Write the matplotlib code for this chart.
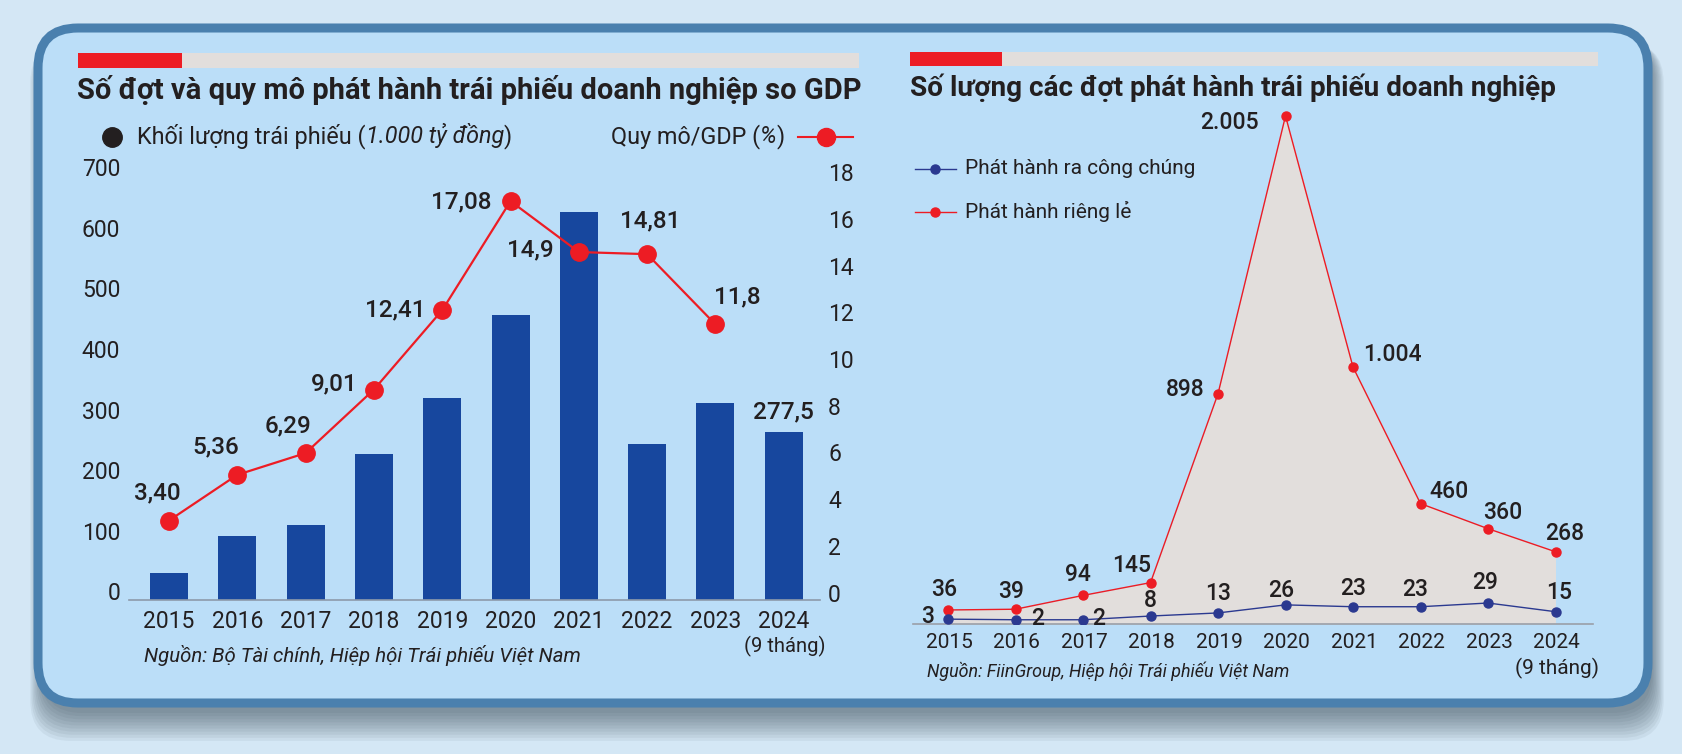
import matplotlib
matplotlib.use('Agg')
import matplotlib.pyplot as plt
from matplotlib.patches import FancyBboxPatch, Rectangle
import numpy as np

plt.rcParams['font.family'] = ['Roboto', 'DejaVu Sans']

# ---- du lieu ----
years = ['2015', '2016', '2017', '2018', '2019', '2020', '2021', '2022', '2023', '2024']
bond_volume = [45, 105, 123, 241, 333, 470, 639, 257, 325, 277.5]      # 1.000 ty dong
gdp_ratio = [3.40, 5.36, 6.29, 9.01, 12.41, 17.08, 14.9, 14.81, 11.8]  # %, 2015-2023
gdp_labels = ['3,40', '5,36', '6,29', '9,01', '12,41', '17,08', '14,9', '14,81', '11,8']
public_issues = [3, 2, 2, 8, 13, 26, 23, 23, 29, 15]
private_issues = [36, 39, 94, 145, 898, 2005, 1004, 460, 360, 268]
private_labels = ['36', '39', '94', '145', '898', '2.005', '1.004', '460', '360', '268']
left_ticks = [0, 100, 200, 300, 400, 500, 600, 700]
right_ticks = [0, 2, 4, 6, 8, 10, 12, 14, 16, 18]

# ---- couleurs ----
BG = '#d4e7f5'
PANEL = '#bbdef8'
BORDER = '#4a80ae'
RED = '#ed1c24'
GREY = '#e2dedc'
BAR = '#17479e'
INDIGO = '#2b3990'
TXT = '#231f20'
AXLINE = '#8d9aab'

W, H = 1683, 754
fig = plt.figure(figsize=(W / 100, H / 100), dpi=100)
fig.patch.set_facecolor(BG)

# fond en pixels
bg = fig.add_axes([0, 0, 1, 1])
bg.set_xlim(0, W)
bg.set_ylim(H, 0)
bg.axis('off')

for k in range(10):
    bg.add_patch(FancyBboxPatch((42, 38 + k * 1.8), 1610, 675,
                                boxstyle='round,pad=%.1f,rounding_size=40' % (k * 1.3),
                                fc='#22323f', ec='none', alpha=0.06))
bg.add_patch(FancyBboxPatch((38, 28), 1610, 675, boxstyle='round,pad=0,rounding_size=40',
                            fc=PANEL, ec=BORDER, lw=6.5))

# bandeaux
bg.add_patch(Rectangle((78, 53), 781, 15, fc=GREY, ec='none'))
bg.add_patch(Rectangle((78, 53), 104, 15, fc=RED, ec='none'))
bg.add_patch(Rectangle((910, 52), 688, 14, fc=GREY, ec='none'))
bg.add_patch(Rectangle((910, 52), 92, 14, fc=RED, ec='none'))

r = fig.canvas.get_renderer()


def fit_width(t, width):
    w = t.get_window_extent(renderer=r).width
    t.set_fontsize(t.get_fontsize() * width / w)


t = bg.text(77, 90, 'Số đợt và quy mô phát hành trái phiếu doanh nghiệp so GDP',
            fontsize=20, fontweight='bold', color=TXT, va='center', ha='left')
fit_width(t, 782)
t = bg.text(910, 88, 'Số lượng các đợt phát hành trái phiếu doanh nghiệp',
            fontsize=20, fontweight='bold', color=TXT, va='center', ha='left')
fit_width(t, 644)

# legende gauche
LF = 16.8
bg.plot(112.5, 136.7, 'o', ms=14, color=TXT)
t1 = bg.text(137, 143, 'Khối lượng trái phiếu (', fontsize=LF, color=TXT, va='baseline')
t2 = bg.annotate('1.000 tỷ đồng', xy=(1, 143), xycoords=(t1, 'data'), fontsize=LF,
                 style='italic', color=TXT, va='baseline')
bg.annotate(')', xy=(1, 143), xycoords=(t2, 'data'), fontsize=LF, color=TXT, va='baseline')
t4 = bg.text(611, 143, 'Quy mô/GDP (', fontsize=LF, color=TXT, va='baseline')
t5 = bg.annotate('%', xy=(1, 143), xycoords=(t4, 'data'), fontsize=LF, style='italic',
                 color=TXT, va='baseline')
bg.annotate(')', xy=(1, 143), xycoords=(t5, 'data'), fontsize=LF, color=TXT, va='baseline')
bg.plot([798, 853], [136.7, 136.7], color=RED, lw=1.5)
bg.plot(825.6, 136.7, 'o', ms=13, color=RED)

# legende droite
bg.plot([915, 956], [169, 169], color=INDIGO, lw=1)
bg.plot(935, 169, 'o', ms=6.5, color=INDIGO)
bg.text(965, 169, 'Phát hành ra công chúng', fontsize=15, color=TXT, va='center')
bg.plot([915, 956], [211.7, 211.7], color=RED, lw=1)
bg.plot(935, 211.7, 'o', ms=6.5, color=RED)
bg.text(965, 211.7, 'Phát hành riêng lẻ', fontsize=15, color=TXT, va='center')

# sources
t = bg.text(144, 656, 'Nguồn: Bộ Tài chính, Hiệp hội Trái phiếu Việt Nam', fontsize=14,
            style='italic', color=TXT, va='center')
fit_width(t, 437)
t = bg.text(927, 671, 'Nguồn: FiinGroup, Hiệp hội Trái phiếu Việt Nam', fontsize=13,
            style='italic', color=TXT, va='center')
fit_width(t, 362)

x = np.arange(len(years))

# ---- graphique gauche ----
ax1 = fig.add_axes([129.3 / W, (H - 600) / H, (820 - 129.3) / W, (600 - 150) / H])
ax1.patch.set_alpha(0)
ax1.bar(x, bond_volume, width=0.556, color=BAR)
ax1.set_xlim(-0.58, 9.53)
ax1.set_ylim(0, 742)
for s in ['top', 'left', 'right']:
    ax1.spines[s].set_visible(False)
ax1.spines['bottom'].set_color(AXLINE)
ax1.spines['bottom'].set_linewidth(1.2)
ax1.set_xticks([])
ax1.set_yticks([])
for i, y in enumerate(years):
    ax1.annotate(y, xy=(i, 0), xycoords=('data', 'axes fraction'), xytext=(0, -21),
                 textcoords='offset pixels', ha='center', va='center', fontsize=16.5, color=TXT)
ax1.annotate('(9 tháng)', xy=(9, 0), xycoords=('data', 'axes fraction'), xytext=(1, -46),
             textcoords='offset pixels', ha='center', va='center', fontsize=14.5, color=TXT)
for v in left_ticks:
    ax1.annotate(str(v), xy=(0, v), xycoords=ax1.get_yaxis_transform(), xytext=(-9, 6),
                 textcoords='offset pixels', ha='right', va='center', fontsize=16.5, color=TXT)
ax1.annotate('277,5', xy=(9, bond_volume[9]), xytext=(0, 20), textcoords='offset pixels',
             ha='center', va='center', fontsize=17.5, fontweight='medium', color=TXT)

ax1b = ax1.twinx()
ax1b.set_ylim(0, 19.27)
ax1b.plot(x[:len(gdp_ratio)], gdp_ratio, color=RED, lw=1.6, marker='o', ms=12.5)
for s in ax1b.spines.values():
    s.set_visible(False)
ax1b.set_yticks([])
for v in right_ticks:
    ax1b.annotate(str(v), xy=(1, v), xycoords=ax1b.get_yaxis_transform(), xytext=(8, 5),
                  textcoords='offset pixels', ha='left', va='center', fontsize=16.5, color=TXT)
gdp_pos = [(-12, 28, 'center'), (-21, 28, 'center'), (-18, 27, 'center'), (-16, 6, 'right'),
           (-17, 0, 'right'), (-19, -1, 'right'), (-25, 2, 'right'), (3, 33, 'center'),
           (22, 28, 'center')]
for i, (lab, (dx, dy, ha)) in enumerate(zip(gdp_labels, gdp_pos)):
    ax1b.annotate(lab, xy=(i, gdp_ratio[i]), xytext=(dx, dy), textcoords='offset pixels',
                  ha=ha, va='center', fontsize=17.5, fontweight='medium', color=TXT)

# ---- graphique droite ----
ax2 = fig.add_axes([913 / W, (H - 624) / H, (1593.3 - 913) / W, (624 - 100) / H])
ax2.patch.set_alpha(0)
ax2.set_xlim(-0.519, 9.56)
ax2.set_ylim(-19.9, 2068.6)
ax2.fill_between(x, private_issues, ax2.get_ylim()[0], color=GREY, lw=0)
ax2.plot(x, private_issues, color=RED, lw=1, marker='o', ms=6.5)
for s in ['top', 'left', 'right']:
    ax2.spines[s].set_visible(False)
ax2.spines['bottom'].set_color('#9a9fa8')
ax2.spines['bottom'].set_linewidth(1.2)
ax2.spines['bottom'].set_zorder(5)
ax2.set_xticks([])
ax2.set_yticks([])
for i, y in enumerate(years):
    ax2.annotate(y, xy=(i, 0), xycoords=('data', 'axes fraction'), xytext=(1, -19),
                 textcoords='offset pixels', ha='center', va='center', fontsize=15, color=TXT)
ax2.annotate('(9 tháng)', xy=(9, 0), xycoords=('data', 'axes fraction'), xytext=(1, -44),
             textcoords='offset pixels', ha='center', va='center', fontsize=15, color=TXT)
red_pos = [(-4, 20, 'center'), (-4, 18, 'center'), (-5, 21, 'center'), (-19, 17, 'center'),
           (-14, 4, 'right'), (-27, -7, 'right'), (10, 13, 'left'), (9, 12, 'left'),
           (15, 16, 'center'), (9, 18, 'center')]
for i, (lab, (dx, dy, ha)) in enumerate(zip(private_labels, red_pos)):
    ax2.annotate(lab, xy=(i, private_issues[i]), xytext=(dx, dy), textcoords='offset pixels',
                 ha=ha, va='center', fontsize=16.5, fontweight='medium', color=TXT)

ax2b = ax2.twinx()
ax2b.set_ylim(-4.84, 840)
ax2b.plot(x, public_issues, color=INDIGO, lw=1, marker='o', ms=6.5)
for s in ax2b.spines.values():
    s.set_visible(False)
ax2b.set_yticks([])
blue_pos = [(-20, 3), (22, 1), (16, 1), (0, 16), (0, 19), (-4, 14), (0, 18), (-5, 17),
            (-3, 21), (4, 19)]
for i, (dx, dy) in enumerate(blue_pos):
    ax2b.annotate(str(public_issues[i]), xy=(i, public_issues[i]), xytext=(dx, dy),
                  textcoords='offset pixels', ha='center', va='center', fontsize=16.5,
                  fontweight='medium', color=TXT)

fig.savefig('out.png', dpi=100, facecolor=fig.get_facecolor())
